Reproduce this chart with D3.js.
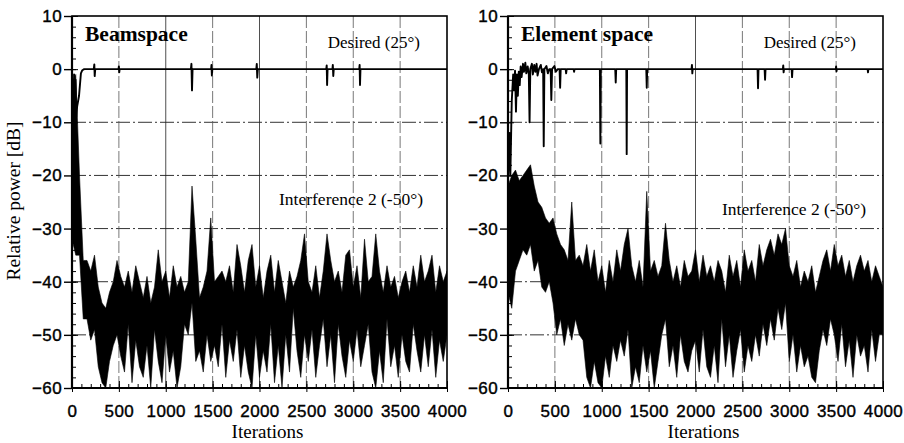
<html>
<head>
  <style>
    body { margin: 0; background: #fff; }
    svg { font-family: "Liberation Serif", "Times New Roman", serif; }
    .tick text { font-size: 17px; letter-spacing: 0.4px; fill: #000; stroke: #000; stroke-width: 0.4; }
    .grid-h { stroke: #333; stroke-width: 1; stroke-dasharray: 14,3,2,3; }
    .grid-v { stroke: #555; stroke-width: 0.8; stroke-dasharray: 12,3; }
    .grid-v.solid { stroke: #222; stroke-dasharray: none; }
    .interf { fill: #000; stroke: #000; stroke-width: 0.6; stroke-linejoin: miter; }
    .desired { fill: none; stroke: #000; stroke-width: 1.9; stroke-linejoin: round; }
  </style>
</head>
<body>
  <script src="https://d3js.org/d3.v7.min.js"></script>
  <script>
    var width = 904;
    var height = 443;

    // interference power envelope in dB: highest / lowest value in each 40-iteration bin (0..4000)
    const binStep = 40;
    const beamHi = [
      -3, -1, -20, -36, -36, -38, -35, -41, -44, -45,
      -42, -40, -36, -39, -41, -38, -42, -37, -40, -43,
      -39, -44, -41, -34, -40, -38, -43, -37, -41, -39,
      -42, -40, -22, -32, -43, -41, -38, -28, -40, -39,
      -38, -40, -37, -42, -33, -37, -42, -36, -33, -41,
      -37, -43, -38, -35, -42, -36, -40, -44, -38, -41,
      -39, -36, -31, -40, -42, -37, -43, -38, -31, -36,
      -40, -38, -42, -35, -34, -41, -37, -43, -32, -40,
      -39, -31, -38, -42, -37, -41, -39, -43, -40, -38,
      -42, -37, -41, -35, -40, -38, -35, -42, -37, -40,
      -38
    ];
    const beamLo = [
      -32, -35, -35, -47, -47, -51, -49, -56, -59, -60,
      -55, -52, -50, -54, -57, -48, -59, -51, -56, -58,
      -52, -60, -49, -55, -59, -50, -57, -53, -60, -56,
      -48, -50, -44, -55, -53, -57, -50, -55, -52, -56,
      -48, -58, -51, -55, -49, -58, -52, -57, -60, -50,
      -58, -53, -57, -48, -59, -52, -60, -50, -57, -45,
      -53, -58, -50, -55, -49, -58, -52, -47, -56, -50,
      -59, -48, -54, -58, -51, -55, -49, -56, -52, -48,
      -57, -60, -53, -59, -47, -56, -52, -58, -50, -55,
      -57, -48, -53, -57, -50, -56, -49, -58, -51, -55,
      -50
    ];
    const elemHi = [
      -22, -20, -19, -21, -20, -19, -18, -22, -25, -26,
      -28, -29, -28, -31, -33, -34, -36, -25, -36, -35,
      -37, -33, -38, -34, -40, -37, -42, -36, -40, -34,
      -38, -33, -30, -37, -40, -36, -41, -23, -38, -36,
      -39, -37, -29, -36, -40, -37, -41, -36, -39, -38,
      -34, -40, -35, -39, -37, -40, -36, -38, -42, -35,
      -39, -36, -41, -34, -38, -36, -40, -33, -37, -34,
      -32, -35, -31, -33, -30, -37, -39, -36, -41, -38,
      -40, -37, -42, -39, -36, -34, -38, -33, -37, -35,
      -39, -36, -40, -37, -35, -38, -36, -40, -37, -39,
      -41
    ];
    const elemLo = [
      -42, -45, -38, -36, -34, -35, -33, -38, -36, -41,
      -42, -40, -44, -50, -47, -52, -48, -51, -47, -50,
      -51, -58, -60, -55, -59, -60, -54, -58, -52, -55,
      -51, -54, -49, -60, -56, -59, -52, -57, -53, -60,
      -55, -50, -47, -56, -52, -58, -50, -55, -57, -53,
      -51, -57, -49, -56, -58, -52, -59, -47, -56, -50,
      -58, -53, -49, -57, -52, -55, -50, -54, -48, -52,
      -47, -51, -45, -49, -44, -55, -50, -57, -52, -56,
      -54, -58, -59, -53, -49, -52, -47, -50, -55, -48,
      -56, -51, -58, -50, -54, -52, -57, -49, -55, -50,
      -50
    ];

    // desired signal power: [iteration, dB] vertices
    const beamDesired = [
      [0, -30], [8, -2], [15, -20], [22, -1], [30, -12], [38, -2], [45, -9], [55, -7], [75, -5],
      [95, -0.8], [110, -0.2], [130, 0],
      [232, 0], [238, 0.9], [242, -1.3], [248, 0],
      [496, 0], [500, 0.5], [504, -0.6], [508, 0],
      [1268, 0], [1274, 1], [1280, -4], [1286, 0],
      [1484, 0], [1488, 0.8], [1492, -1.2], [1496, 0],
      [1966, 0], [1971, 1], [1976, -1.6], [1982, 0],
      [2712, 0], [2717, 0.7], [2721, -3], [2726, 0],
      [2778, 0], [2782, 0.8], [2787, -1.3], [2792, 0],
      [3064, 0], [3068, 0.8], [3072, -3], [3077, 0],
      [4000, 0]
    ];
    const elemDesired = [
      [0, -21], [15, -12], [25, -20], [40, -6], [55, -1], [65, -4], [75, -0.3], [85, -8], [95, -1],
      [105, -5], [115, -0.5], [125, -3], [135, 0.5], [145, -1.5], [160, 1], [170, -0.5], [185, 1.2],
      [195, -0.8], [210, 0.5], [222, -1], [230, -10], [238, 0], [255, 1], [265, -1], [280, 0.8],
      [292, -0.5], [305, 1], [315, -1.2], [330, 0], [350, 0.8], [362, -0.6], [375, 0], [381, -14.5],
      [388, 0], [410, 0.6], [425, -0.8], [440, 0], [455, 0], [462, -5.8], [470, 0], [495, 0.6],
      [510, -0.5], [530, 0], [550, 0], [556, -3.5], [562, 0], [615, 0], [620, -0.8], [626, 0],
      [700, 0], [705, -0.5], [710, 0], [980, 0], [985, -14], [990, 0], [1144, 0], [1149, -2.5],
      [1154, 0], [1262, 0], [1266, -16], [1270, 0], [1475, 0], [1480, -3.5], [1485, 0],
      [1958, 0], [1962, 0.8], [1966, -0.8], [1970, 0], [2662, 0], [2667, -3.6], [2672, 0],
      [2737, 0], [2742, -2], [2747, 0], [2932, 0], [2936, 0.7], [2940, -0.6], [2944, 0],
      [3026, 0], [3030, -1.5], [3035, 0], [3496, 0], [3500, 0.5], [3504, -0.4], [3508, 0],
      [3836, 0], [3840, -0.6], [3844, 0], [4000, 0]
    ];

    const xMajor = [0, 500, 1000, 1500, 2000, 2500, 3000, 3500, 4000];
    const xMinor = d3.range(0, 4001, 100);
    const yMajor = [-60, -50, -40, -30, -20, -10, 0, 10];
    const yMinor = d3.range(-60, 11, 2);
    const hGrid = [-50, -40, -30, -20, -10];
    const vGrid = [500, 1000, 1500, 2000, 2500, 3000, 3500];

    const panels = [
      { left: 72, right: 447, title: "Beamspace", hi: beamHi, lo: beamLo, desired: beamDesired,
        solidV: [1000, 2000], interfLabelX: -24, interfLabelY: 205 },
      { left: 508, right: 883, title: "Element space", hi: elemHi, lo: elemLo, desired: elemDesired,
        solidV: [2000], interfLabelX: -17, interfLabelY: 215 }
    ];
    const plotTop = 16, plotBottom = 388;

    var svg = d3.select("body").append("svg")
      .attr("width", width)
      .attr("height", height);
    svg.append("rect").attr("width", width).attr("height", height).attr("fill", "#fff");

    var y = d3.scaleLinear().domain([-60, 10]).range([plotBottom, plotTop]);

    panels.forEach((p, k) => {
      var x = d3.scaleLinear().domain([0, 4000]).range([p.left, p.right]);
      var g = svg.append("g");

      g.append("clipPath").attr("id", "clip" + k)
        .append("rect").attr("x", p.left).attr("y", plotTop)
        .attr("width", p.right - p.left).attr("height", plotBottom - plotTop);

      // grid
      g.selectAll(".grid-h").data(hGrid).join("line")
        .attr("class", "grid-h")
        .attr("x1", p.left).attr("x2", p.right)
        .attr("y1", d => y(d)).attr("y2", d => y(d));
      g.selectAll(".grid-v").data(vGrid).join("line")
        .attr("class", d => "grid-v" + (p.solidV.includes(d) ? " solid" : ""))
        .attr("y1", plotTop).attr("y2", plotBottom)
        .attr("x1", d => x(d)).attr("x2", d => x(d));

      var plot = g.append("g").attr("clip-path", "url(#clip" + k + ")");

      var band = d3.area()
        .x((d, i) => x(i * binStep))
        .y0((d, i) => y(p.lo[i]))
        .y1(d => y(d));
      plot.append("path").attr("class", "interf").attr("d", band(p.hi));

      var desLine = d3.line().x(d => x(d[0])).y(d => y(d[1]));
      plot.append("path").attr("class", "desired").attr("d", desLine(p.desired));

      // frame
      g.append("rect")
        .attr("x", p.left).attr("y", plotTop)
        .attr("width", p.right - p.left).attr("height", plotBottom - plotTop)
        .attr("fill", "none").attr("stroke", "#000").attr("stroke-width", 1.6);
      g.append("line").attr("x1", p.left).attr("x2", p.left).attr("y1", plotTop).attr("y2", plotBottom + 1)
        .attr("stroke", "#000").attr("stroke-width", 2.2);
      g.append("line").attr("x1", p.left - 1).attr("x2", p.right).attr("y1", plotBottom).attr("y2", plotBottom)
        .attr("stroke", "#000").attr("stroke-width", 2.2);

      // x axis
      var xAx = g.append("g").attr("transform", "translate(0," + plotBottom + ")")
        .call(d3.axisBottom(x).tickValues(xMajor).tickSizeInner(4).tickSizeOuter(0).tickPadding(13)
          .tickFormat(d3.format("d")));
      xAx.select(".domain").remove();
      var xMin = g.append("g").attr("transform", "translate(0," + plotBottom + ")")
        .call(d3.axisTop(x).tickValues(xMinor).tickSize(4).tickSizeOuter(0).tickFormat(""));
      xMin.select(".domain").remove();
      var xMaj = g.append("g").attr("transform", "translate(0," + plotBottom + ")")
        .call(d3.axisTop(x).tickValues(xMajor).tickSize(7).tickSizeOuter(0).tickFormat(""));
      xMaj.select(".domain").remove();

      // y axis
      var yAx = g.append("g").attr("transform", "translate(" + p.left + ",0)")
        .call(d3.axisLeft(y).tickValues(yMajor).tickSizeInner(8).tickSizeOuter(0).tickPadding(2)
          .tickFormat(d3.format("d")));
      yAx.select(".domain").remove();
      yAx.selectAll(".tick line").attr("stroke-width", 1.4);
      var yMin = g.append("g").attr("transform", "translate(" + p.left + ",0)")
        .call(d3.axisRight(y).tickValues(yMinor).tickSize(4).tickSizeOuter(0).tickFormat(""));
      yMin.select(".domain").remove();
      var yMaj = g.append("g").attr("transform", "translate(" + p.left + ",0)")
        .call(d3.axisRight(y).tickValues(yMajor).tickSize(6).tickSizeOuter(0).tickFormat(""));
      yMaj.select(".domain").remove();

      // texts
      g.append("text").attr("x", p.left + 13).attr("y", 41)
        .attr("font-size", 21.5).attr("font-weight", "bold").text(p.title);
      g.append("text").attr("x", p.right - 27).attr("y", 48).attr("text-anchor", "end")
        .attr("font-size", 17).text("Desired (25°)");
      g.append("text").attr("x", p.right + p.interfLabelX).attr("y", p.interfLabelY).attr("text-anchor", "end")
        .attr("font-size", 17.5).text("Interference 2 (-50°)");
      g.append("text").attr("x", (p.left + p.right) / 2 + 8).attr("y", 438).attr("text-anchor", "middle")
        .attr("font-size", 19).text("Iterations");
    });

    svg.append("text")
      .attr("transform", "translate(20,201) rotate(-90)")
      .attr("text-anchor", "middle")
      .attr("font-size", 19.5)
      .text("Relative power [dB]");
  </script>
</body>
</html>
